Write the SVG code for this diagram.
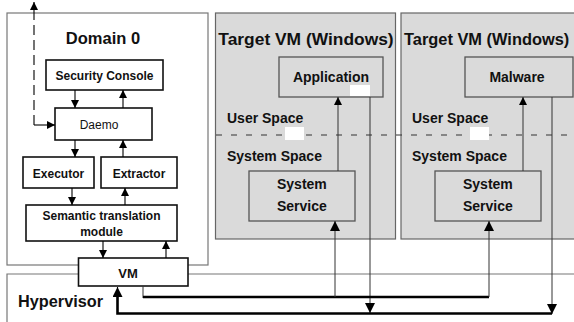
<svg xmlns="http://www.w3.org/2000/svg" width="574" height="322" viewBox="0 0 574 322">
  <defs>
    <marker id="ah" viewBox="0 0 10 10" refX="10" refY="5" markerWidth="8" markerHeight="8" markerUnits="userSpaceOnUse" orient="auto">
      <path d="M0,0 L10,5 L0,10 z" fill="#000"/>
    </marker>
    <marker id="ahBig" viewBox="0 0 10 10" refX="10" refY="5" markerWidth="10" markerHeight="10" markerUnits="userSpaceOnUse" orient="auto">
      <path d="M0,0 L10,5 L0,10 z" fill="#000"/>
    </marker>
    <style>
      .t { font-family: "Liberation Sans", Arial, sans-serif; font-weight: bold; fill: #111; }
      .r { font-family: "Liberation Sans", Arial, sans-serif; fill: #111; }
      .frame { fill: #fff; stroke: #777; stroke-width: 1.2; }
      .vm { fill: #dadada; stroke: #666; stroke-width: 1.2; }
      .box { fill: #fff; stroke: #111; stroke-width: 1.6; }
      .gbox { fill: none; stroke: #555; stroke-width: 1.3; }
      .thin { fill: none; stroke: #000; stroke-width: 1.1; }
      .gthin { fill: none; stroke: #333; stroke-width: 1; }
      .thick { fill: none; stroke: #000; stroke-width: 2.6; }
      .sep { fill: none; stroke: #333; stroke-width: 1; stroke-dasharray: 6 9; }
    </style>
  </defs>

  <rect width="574" height="322" fill="#fff"/>

  <!-- Domain 0 -->
  <g id="domain0">
    <rect class="frame" x="7" y="13" width="201" height="252"/>
    <text class="t" x="103" y="44" font-size="16.5" text-anchor="middle">Domain 0</text>
  </g>

  <!-- Target VMs -->
  <g id="targetvm1">
    <rect class="vm" x="215.5" y="13" width="180" height="226"/>
    <text class="t" x="306" y="45" font-size="17.4" text-anchor="middle">Target VM (Windows)</text>
    <text class="t" x="227" y="123" font-size="14">User Space</text>
    <text class="t" x="227" y="161" font-size="14">System Space</text>
  </g>
  <g id="targetvm2">
    <rect class="vm" x="401" y="13" width="180" height="226"/>
    <text class="t" x="404" y="45" font-size="16.4">Target VM (Windows)</text>
    <text class="t" x="412" y="123" font-size="14">User Space</text>
    <text class="t" x="412" y="161" font-size="14">System Space</text>
  </g>

  <!-- user / system boundary -->
  <line class="sep" x1="216" y1="135" x2="574" y2="135"/>

  <!-- Hypervisor -->
  <g id="hypervisor">
    <path d="M7,322 V274 H574" fill="none" stroke="#777" stroke-width="1.2"/>
    <text class="t" x="18" y="307" font-size="16.3">Hypervisor</text>
  </g>

  <!-- Domain 0 components -->
  <g id="securityconsole">
    <rect class="box" x="46" y="60" width="117" height="30"/>
    <text class="t" x="104.5" y="80" font-size="12" text-anchor="middle">Security Console</text>
  </g>
  <g id="daemo">
    <rect class="box" x="55" y="108" width="97" height="32"/>
    <text class="r" x="99" y="129" font-size="12" text-anchor="middle">Daemo</text>
  </g>
  <g id="executor">
    <rect class="box" x="23" y="157" width="71" height="31"/>
    <text class="t" x="58.5" y="178" font-size="12" text-anchor="middle">Executor</text>
  </g>
  <g id="extractor">
    <rect class="box" x="101" y="157" width="76" height="31"/>
    <text class="t" x="139" y="178" font-size="12" text-anchor="middle">Extractor</text>
  </g>
  <g id="semantic">
    <rect class="box" x="26" y="205" width="151" height="36"/>
    <text class="t" x="101.5" y="220" font-size="12" text-anchor="middle">Semantic translation</text>
    <text class="t" x="101.5" y="236" font-size="12" text-anchor="middle">module</text>
  </g>
  <g id="vm">
    <rect class="box" x="78.5" y="258" width="109.5" height="28" fill="none"/>
    <text class="t" x="128" y="278" font-size="13" text-anchor="middle">VM</text>
  </g>

  <!-- Target VM components -->
  <g id="application">
    <rect class="gbox" x="279" y="57" width="104" height="40"/>
    <text class="t" x="331" y="82" font-size="14" text-anchor="middle">Application</text>
  </g>
  <g id="malware">
    <rect class="gbox" x="465" y="57" width="108" height="40"/>
    <text class="t" x="517" y="82" font-size="14" text-anchor="middle">Malware</text>
  </g>
  <g id="systemservice1">
    <rect class="gbox" x="249" y="171" width="106" height="50"/>
    <text class="t" x="277" y="189" font-size="14">System</text>
    <text class="t" x="277" y="211" font-size="14">Service</text>
  </g>
  <g id="systemservice2">
    <rect class="gbox" x="435" y="171" width="106" height="50"/>
    <text class="t" x="463" y="189" font-size="14">System</text>
    <text class="t" x="463" y="211" font-size="14">Service</text>
  </g>

  <!-- small white patches -->
  <g id="patches" fill="#fff">
    <rect x="350" y="85" width="20" height="11"/>
    <rect x="285" y="127" width="19" height="13"/>
    <rect x="470" y="127" width="19" height="13"/>
  </g>

  <!-- Connectors -->
  <g id="connectors">
    <!-- Daemo up to outside (dashed) -->
    <path class="thin" d="M34,125 V2" stroke-dasharray="10 5" marker-end="url(#ah)"/>
    <path class="thin" d="M34,125 H55" marker-end="url(#ah)"/>

    <!-- Security Console <-> Daemo -->
    <path class="thin" d="M75,90 V108" marker-end="url(#ah)"/>
    <path class="thin" d="M123,108 V90" marker-end="url(#ah)"/>

    <!-- Daemo -> Executor, Extractor -> Daemo -->
    <path class="thin" d="M75,140 V157" marker-end="url(#ah)"/>
    <path class="thin" d="M123,157 V140" marker-end="url(#ah)"/>

    <!-- Executor -> Semantic, Semantic -> Extractor -->
    <path class="thin" d="M72,188 V205" marker-end="url(#ah)"/>
    <path class="thin" d="M125,205 V188" marker-end="url(#ah)"/>

    <!-- Semantic <-> VM -->
    <path class="thin" d="M103,241 V258" marker-end="url(#ah)"/>
    <path class="thin" d="M166,258 V241" marker-end="url(#ah)"/>

    <!-- System Service -> Application / Malware -->
    <path class="gthin" d="M338,171 V97" marker-end="url(#ah)"/>
    <path class="gthin" d="M523,171 V97" marker-end="url(#ah)"/>

    <!-- Application / Malware down to hypervisor bus -->
    <path class="gthin" d="M370,97 V313" marker-end="url(#ahBig)"/>
    <path class="gthin" d="M552,97 V314" marker-end="url(#ahBig)"/>

    <!-- VM out bus to System Services -->
    <path class="gthin" d="M143,286 V298"/>
    <path class="thick" d="M143,297 H489"/>
    <path class="gthin" d="M335,297 V221" marker-end="url(#ahBig)"/>
    <path class="gthin" d="M489,297 V221" marker-end="url(#ahBig)"/>

    <!-- return bus to VM -->
    <path class="thick" d="M552,313.5 H117.5 V296"/>
    <path class="thin" d="M117.5,300 V287" stroke-width="1.6" marker-end="url(#ahBig)"/>
  </g>
</svg>
